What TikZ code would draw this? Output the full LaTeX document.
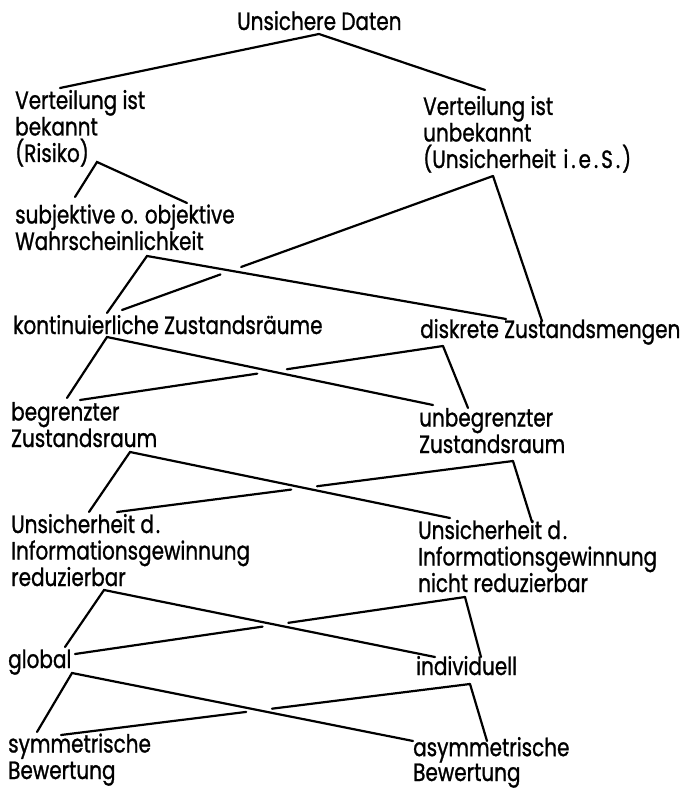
\documentclass[tikz,border=0pt]{standalone}
\usepackage{fontspec}
\setmainfont{Poppins}[FakeStretch=0.8,FakeBold=1]
\usetikzlibrary{intersections,calc}
\begin{document}
\begin{tikzpicture}[x=1pt,y=-1pt,
  lbl/.style={anchor=base west,align=left,inner sep=0pt,font=\fontsize{25}{26.5}\selectfont},
  ln/.style={line width=2.2pt,line cap=round}]
\useasboundingbox (0,0) rectangle (679,791);
% texts (anchor = baseline of last line)
\node[lbl] (title) at (237,30) {Unsichere Daten};
\node[lbl] (vb) at (15,162) {Verteilung ist\\bekannt\\(Risiko)};
\node[lbl] (vu) at (423,168) {Verteilung ist\\unbekannt\\(Unsicherheit\kern2pt{} i\kern3pt.\kern3pt e\kern3pt.\kern3pt S\kern3pt.\kern2pt)};
\node[lbl] (wk) at (15,250) {subjektive o. objektive\\Wahrscheinlichkeit};
\node[lbl] (kz) at (13,334) {kontinuierliche Zustandsräume};
\node[lbl] (dz) at (420,338) {diskrete Zustandsmengen};
\node[lbl] (bz) at (11,447) {begrenzter\\Zustandsraum};
\node[lbl] (uz) at (419,453) {unbegrenzter\\Zustandsraum};
\node[lbl] (ir) at (11,586) {Unsicherheit d\kern2pt.\\Informationsgewinnung\\reduzierbar};
\node[lbl] (inr) at (418,592) {Unsicherheit d\kern2pt.\\Informationsgewinnung\\nicht reduzierbar};
\node[lbl] (gl) at (8,668) {global};
\node[lbl] (iv) at (416,675) {individuell};
\node[lbl] (sb) at (8,779) {symmetrische\\Bewertung};
\node[lbl,font=\fontsize{25}{23}\selectfont] (ab) at (413,781) {asymmetrische\\Bewertung};
% connector points
\coordinate (T) at (319,34);   \coordinate (VL) at (60,88);  \coordinate (VR) at (485,90);
\coordinate (R) at (97,162);   \coordinate (Ra) at (75,197); \coordinate (Rb) at (187,203);
\coordinate (U) at (493,176);  \coordinate (Ua) at (122,310);\coordinate (Ub) at (542,321);
\coordinate (W) at (147,256);  \coordinate (Wa) at (107,313);\coordinate (Wb) at (506,319);
\coordinate (K) at (107,337);  \coordinate (Ka) at (67,398); \coordinate (Kb) at (433,405);
\coordinate (D) at (443,346);  \coordinate (Da) at (80,400); \coordinate (Db) at (468,408);
\coordinate (Z) at (130,452);  \coordinate (Za) at (89,512); \coordinate (Zb) at (450,518);
\coordinate (B) at (513,461);  \coordinate (Ba) at (117,512);\coordinate (Bb) at (532,522);
\coordinate (RB) at (104,590); \coordinate (RBa) at (65,647);\coordinate (RBb) at (435,657);
\coordinate (N) at (465,597);  \coordinate (Na) at (75,654); \coordinate (Nb) at (481,657);
\coordinate (G) at (72,673);   \coordinate (Ga) at (37,732); \coordinate (Gb) at (413,741);
\coordinate (I) at (470,684);  \coordinate (Ia) at (61,735); \coordinate (Ib) at (487,741);
% continuous connectors
\draw[ln] (VL) -- (T) -- (VR);
\draw[ln] (Ra) -- (R) -- (Rb);
\draw[ln] (U) -- (Ub);
\draw[ln] (Wa) -- (W) -- (Wb);
\draw[ln] (Ka) -- (K) -- (Kb);
\draw[ln] (D) -- (Db);
\draw[ln] (Za) -- (Z) -- (Zb);
\draw[ln] (B) -- (Bb);
\draw[ln] (RBa) -- (RB) -- (RBb);
\draw[ln] (N) -- (Nb);
\draw[ln] (Ga) -- (G) -- (Gb);
\draw[ln] (I) -- (Ib);
% broken connectors
\path[name path=c1] (W) -- (Wb);   \path[name path=g1] (U) -- (Ua);
\path[name intersections={of=c1 and g1,by=x1}];
\draw[ln] (U) -- ($(x1)!11pt!(U)$);   \draw[ln] ($(x1)!11pt!(Ua)$) -- (Ua);
\path[name path=c2] (K) -- (Kb);   \path[name path=g2] (D) -- (Da);
\path[name intersections={of=c2 and g2,by=x2}];
\draw[ln] (D) -- ($(x2)!15pt!(D)$);   \draw[ln] ($(x2)!15pt!(Da)$) -- (Da);
\path[name path=c3] (Z) -- (Zb);   \path[name path=g3] (B) -- (Ba);
\path[name intersections={of=c3 and g3,by=x3}];
\draw[ln] (B) -- ($(x3)!13pt!(B)$);   \draw[ln] ($(x3)!13pt!(Ba)$) -- (Ba);
\path[name path=c4] (RB) -- (RBb); \path[name path=g4] (N) -- (Na);
\path[name intersections={of=c4 and g4,by=x4}];
\draw[ln] (N) -- ($(x4)!13pt!(N)$);   \draw[ln] ($(x4)!13pt!(Na)$) -- (Na);
\path[name path=c5] (G) -- (Gb);   \path[name path=g5] (I) -- (Ia);
\path[name intersections={of=c5 and g5,by=x5}];
\draw[ln] (I) -- ($(x5)!13pt!(I)$);   \draw[ln] ($(x5)!13pt!(Ia)$) -- (Ia);
\end{tikzpicture}
\end{document}
